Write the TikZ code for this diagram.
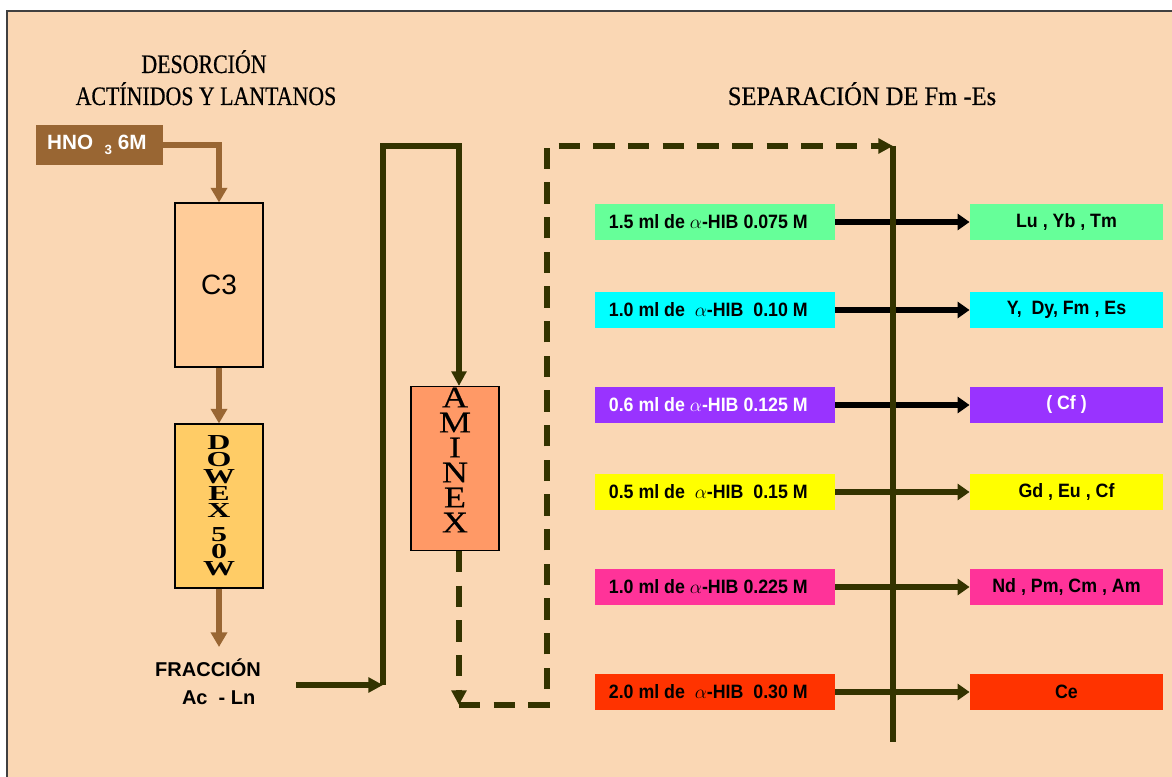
\documentclass[tikz,border=0pt]{standalone}
\usepackage{fontspec}
\setmainfont{Liberation Sans}
\newfontfamily\tagfont[FakeStretch=0.92]{Liberation Sans}
\newfontfamily\titlefont[FakeStretch=0.82,FakeBold=0.5]{Liberation Serif}
\newfontfamily\septitlefont[FakeStretch=0.92,FakeBold=0.5]{Liberation Serif}
\newfontfamily\dowexfont[FakeStretch=1.5]{Liberation Serif Bold}
\newfontfamily\aminexfont[FakeStretch=1.2,FakeBold=0.4]{Liberation Serif}
\usetikzlibrary{arrows.meta}

\definecolor{peach}{RGB}{250,215,180}
\definecolor{hnofill}{RGB}{153,102,51}
\definecolor{olive}{RGB}{51,51,0}
\definecolor{cthree}{RGB}{255,204,153}
\definecolor{dowexfill}{RGB}{255,204,102}
\definecolor{aminexfill}{RGB}{255,153,102}
\definecolor{tgreen}{RGB}{102,255,153}
\definecolor{tcyan}{RGB}{0,255,255}
\definecolor{tviolet}{RGB}{153,51,255}
\definecolor{tyellow}{RGB}{255,255,0}
\definecolor{tpink}{RGB}{255,51,153}
\definecolor{tred}{RGB}{255,51,0}

\newcommand*{\colx}{893}
\newcommand*{\topy}{146}
\newcommand*{\boty}{742}

\begin{document}
\begin{tikzpicture}[x=0.75pt,y=-0.75pt,
	column/.style={draw=black,line width=0.8pt,minimum width=66pt,minimum height=123pt,inner sep=0pt},
	tag/.style={minimum height=27pt,inner sep=0pt,font=\tagfont\bfseries\fontsize{14.5}{16}\selectfont},
	title/.style={anchor=base,font=\titlefont\fontsize{20}{22}\selectfont},
	brownarrow/.style={draw=hnofill,line width=4pt,-{Triangle[length=11pt,width=12pt]}},
	flow/.style={draw=olive,line width=4pt},
	flowtip/.style={-{Triangle[length=11pt,width=11pt]}},
	dashflow/.style={flow,dash pattern=on 16pt off 10pt}]

	\useasboundingbox (0,0) rectangle (1172,777);
	\fill[peach] (7,11) rectangle (1172,777);
	\draw[black!75,line width=1.2pt] (7,777) -- (7,11) -- (1172,11);

	% titles
	\node[title] (des1) at (204,73) {DESORCIÓN};
	\node[title] (des2) at (206,105) {ACTÍNIDOS Y LANTANOS};
	\node[title,font=\septitlefont\fontsize{20}{22}\selectfont] (sep) at (862,105) {SEPARACIÓN DE Fm -Es};

	% desorcion column
	\node[fill=hnofill,text=white,minimum width=95pt,minimum height=30pt,inner sep=0pt,
		font=\bfseries\fontsize{15.5}{17}\selectfont] (hno) at (99.5,145)
		{\hspace{-4pt}HNO \ \raisebox{-4pt}{\fontsize{10}{10}\selectfont 3}\ 6M};
	\node[column,fill=cthree,font=\fontsize{21}{24}\selectfont] (c3) at (219,285) {C3};
	\node[column,fill=dowexfill,align=center,font=\dowexfont\fontsize{16}{12.75}\selectfont]
		(dowex) at (219,506) {D\\O\\W\\E\\X\\[5pt]5\\0\\W};
	\coordinate (tail) at (219,647);
	\node[align=center,font=\bfseries\fontsize{15}{21}\selectfont] (frac) at (208,682)
		{FRACCIÓN\\\hspace{16pt}Ac \ - Ln};

	\draw[brownarrow] (hno.east) -| (c3.north);
	\draw[brownarrow] (c3.south) -- (dowex.north);
	\draw[brownarrow] (dowex.south) -- (tail);

	% aminex
	\node[column,fill=aminexfill] (aminex) at (455,468.5) {};
	\node[anchor=north,inner sep=0pt,align=center,font=\aminexfont\fontsize{22.5}{18.75}\selectfont]
		(aminextext) at ([yshift=-1pt]aminex.north) {A\\M\\I\\N\\E\\X};
	\coordinate (ain) at ([xshift=3pt]aminex.north);
	\coordinate (aout) at ([xshift=3pt]aminex.south);
	\coordinate (fout) at (296,685);
	\coordinate (riseb) at (383,685);
	\coordinate (riset) at (383,\topy);
	\coordinate (dropb) at (459,705);
	\coordinate (retb) at (547,705);
	\coordinate (rett) at (547,\topy);
	\coordinate (top) at (\colx,\topy);
	\coordinate (bot) at (\colx,\boty);

	\draw[flow,flowtip] (fout) -- (riseb);
	\draw[flow,flowtip] (riseb) -- (riset) -| (ain);
	\draw[dashflow,flowtip] (aout) -- (dropb);
	\draw[dashflow,flowtip] (dropb) -- (retb) -- (rett) -- (top);

	% elution rows
	\foreach \y/\fc/\tc/\ac/\lt/\rt [count=\n] in {
		222/tgreen/black/black/{1.5 ml de $\alpha$-HIB 0.075 M}/{Lu , Yb , Tm},
		310/tcyan/black/black/{1.0 ml de \ $\alpha$-HIB \ 0.10 M}/{Y, \ Dy, Fm , Es},
		405/tviolet/white/black/{0.6 ml de $\alpha$-HIB 0.125 M}/{( Cf )},
		492/tyellow/black/olive/{0.5 ml de \ $\alpha$-HIB \ 0.15 M}/{Gd , Eu , Cf},
		587/tpink/black/olive/{1.0 ml de $\alpha$-HIB 0.225 M}/{Nd , Pm, Cm , Am},
		692/tred/black/olive/{2.0 ml de \ $\alpha$-HIB \ 0.30 M}/{Ce}} {
		\node[tag,fill=\fc,text=\tc,minimum width=180pt] (l\n) at (715,\y) {\lt\rule{10pt}{0pt}};
		\node[tag,fill=\fc,text=\tc,minimum width=145pt] (r\n) at (1066.5,\y) {\rt};
		\draw[draw=\ac,line width=4.3pt,-{Triangle[length=9pt,width=12pt]}] (l\n.east) -- (r\n.west);
	}

	% collector
	\draw[flow] (top) -- (bot);

\end{tikzpicture}
\end{document}
